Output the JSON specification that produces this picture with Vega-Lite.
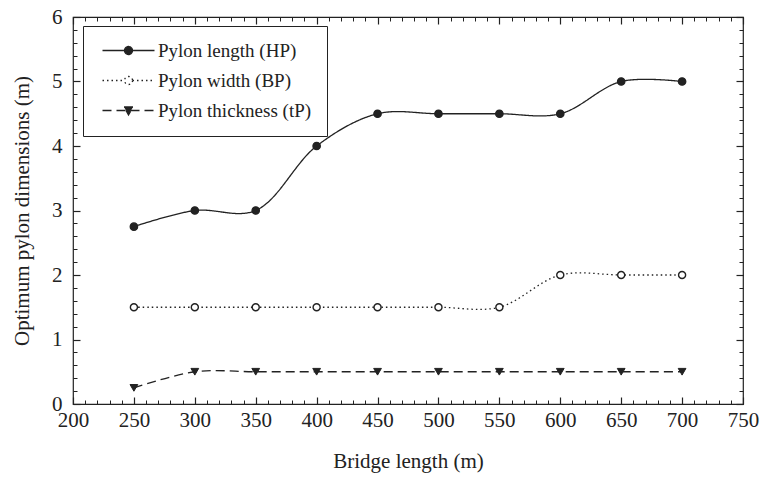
{
  "$schema": "https://vega.github.io/schema/vega-lite/v6.json",
  "width": 670,
  "height": 387,
  "autosize": {"type": "none"},
  "padding": {"left": 73, "top": 17, "right": 30, "bottom": 80},
  "background": "white",
  "config": {
    "view": {"stroke": "#222", "strokeWidth": 1.2},
    "axis": {
      "labelFont": "Liberation Serif",
      "labelFontSize": 21,
      "labelColor": "#222",
      "titleFont": "Liberation Serif",
      "titleFontSize": 21,
      "titleFontWeight": "normal",
      "titleColor": "#222",
      "domain": false,
      "zindex": 1,
      "grid": false,
      "labelOverlap": false,
      "labelFlush": false
    },
    "legend": {
      "orient": "none",
      "legendX": 10,
      "legendY": 9,
      "zindex": 2,
      "strokeColor": "#222",
      "strokeWidth": 1,
      "fillColor": "white",
      "padding": 15,
      "labelFont": "Liberation Serif",
      "labelFontSize": 19,
      "labelColor": "#222",
      "symbolSize": 100,
      "symbolStrokeColor": "#222",
      "symbolStrokeWidth": 1.3,
      "rowPadding": 10,
      "labelOffset": 41,
      "labelLimit": 0
    }
  },
  "resolve": {"axis": {"x": "independent", "y": "independent"}},
  "data": {
    "values": [
      {"x": 250, "v": 2.75, "s": "Pylon length (HP)"},
      {"x": 300, "v": 3.0, "s": "Pylon length (HP)"},
      {"x": 350, "v": 3.0, "s": "Pylon length (HP)"},
      {"x": 400, "v": 4.0, "s": "Pylon length (HP)"},
      {"x": 450, "v": 4.5, "s": "Pylon length (HP)"},
      {"x": 500, "v": 4.5, "s": "Pylon length (HP)"},
      {"x": 550, "v": 4.5, "s": "Pylon length (HP)"},
      {"x": 600, "v": 4.5, "s": "Pylon length (HP)"},
      {"x": 650, "v": 5.0, "s": "Pylon length (HP)"},
      {"x": 700, "v": 5.0, "s": "Pylon length (HP)"},
      {"x": 250, "v": 1.5, "s": "Pylon width (BP)"},
      {"x": 300, "v": 1.5, "s": "Pylon width (BP)"},
      {"x": 350, "v": 1.5, "s": "Pylon width (BP)"},
      {"x": 400, "v": 1.5, "s": "Pylon width (BP)"},
      {"x": 450, "v": 1.5, "s": "Pylon width (BP)"},
      {"x": 500, "v": 1.5, "s": "Pylon width (BP)"},
      {"x": 550, "v": 1.5, "s": "Pylon width (BP)"},
      {"x": 600, "v": 2.0, "s": "Pylon width (BP)"},
      {"x": 650, "v": 2.0, "s": "Pylon width (BP)"},
      {"x": 700, "v": 2.0, "s": "Pylon width (BP)"},
      {"x": 250, "v": 0.25, "s": "Pylon thickness (tP)"},
      {"x": 300, "v": 0.5, "s": "Pylon thickness (tP)"},
      {"x": 350, "v": 0.5, "s": "Pylon thickness (tP)"},
      {"x": 400, "v": 0.5, "s": "Pylon thickness (tP)"},
      {"x": 450, "v": 0.5, "s": "Pylon thickness (tP)"},
      {"x": 500, "v": 0.5, "s": "Pylon thickness (tP)"},
      {"x": 550, "v": 0.5, "s": "Pylon thickness (tP)"},
      {"x": 600, "v": 0.5, "s": "Pylon thickness (tP)"},
      {"x": 650, "v": 0.5, "s": "Pylon thickness (tP)"},
      {"x": 700, "v": 0.5, "s": "Pylon thickness (tP)"}
    ]
  },
  "layer": [
    {
      "mark": {"type": "line", "interpolate": "catmull-rom", "stroke": "#222", "strokeWidth": 1.3},
      "encoding": {
        "x": {
          "field": "x", "type": "quantitative",
          "scale": {"domain": [200, 750], "nice": false},
          "axis": {
            "orient": "bottom",
            "title": "Bridge length (m)",
            "values": [200,250,300,350,400,450,500,550,600,650,700,750],
            "offset": -7,
            "tickSize": 7,
            "tickColor": "#222",
            "tickWidth": 1.2,
            "labelPadding": 5,
            "titlePadding": 20
          }
        },
        "y": {
          "field": "v", "type": "quantitative",
          "scale": {"domain": [0, 6], "nice": false},
          "axis": {
            "orient": "left",
            "title": "Optimum pylon dimensions  (m)",
            "format": "d",
            "values": [0,1,2,3,4,5,6],
            "offset": -7,
            "tickSize": 7,
            "tickColor": "#222",
            "tickWidth": 1.2,
            "labelPadding": 11,
            "titlePadding": 19
          }
        },
        "strokeDash": {
          "field": "s", "type": "nominal",
          "scale": {
            "domain": ["Pylon length (HP)", "Pylon width (BP)", "Pylon thickness (tP)"],
            "range": [[1, 0], [1.5, 3], [9, 5]]
          },
          "legend": {
            "title": null,
            "encode": {
              "symbols": {
                "update": {
                  "shape": {"signal": "datum.value === 'Pylon length (HP)' ? 'M-1,0L9.4,0M5,0A0.8,0.8 0 1,1 3.4,0A0.8,0.8 0 1,1 5,0Z' : datum.value === 'Pylon width (BP)' ? 'M-1,0L3.4,0M5,0A0.8,0.8 0 1,1 3.4,0A0.8,0.8 0 1,1 5,0ZM5,0L9.4,0' : 'M-1,0L9.4,0M3.3,-0.7L5.1,-0.7L4.2,0.9Z'"},
                  "fill": {"signal": "datum.value === 'Pylon width (BP)' ? 'white' : '#222'"},
                  "stroke": {"value": "#222"},
                  "strokeWidth": {"value": 1.3},
                  "opacity": {"value": 1}
                }
              }
            }
          }
        }
      }
    },
    {
      "transform": [{"filter": "datum.s === 'Pylon length (HP)'"}],
      "mark": {"type": "point", "shape": "circle", "filled": true, "fill": "#222", "stroke": "#222", "strokeWidth": 1.3, "opacity": 1, "size": 55},
      "encoding": {
        "x": {
          "field": "x", "type": "quantitative",
          "axis": {
            "orient": "top", "title": null, "labels": false,
            "values": [200,250,300,350,400,450,500,550,600,650,700,750],
            "offset": -7, "tickSize": 7, "tickColor": "#222", "tickWidth": 1.2
          }
        },
        "y": {
          "field": "v", "type": "quantitative",
          "axis": {
            "orient": "right", "title": null, "labels": false,
            "values": [0,1,2,3,4,5,6],
            "offset": -7, "tickSize": 7, "tickColor": "#222", "tickWidth": 1.2
          }
        }
      }
    },
    {
      "transform": [{"filter": "datum.s === 'Pylon width (BP)'"}],
      "mark": {"type": "point", "shape": "circle", "filled": true, "fill": "white", "stroke": "#222", "strokeWidth": 1.4, "opacity": 1, "size": 50},
      "encoding": {
        "x": {
          "field": "x", "type": "quantitative",
          "axis": {
            "orient": "bottom", "title": null, "labels": false,
            "values": [200,210,220,230,240,250,260,270,280,290,300,310,320,330,340,350,360,370,380,390,400,410,420,430,440,450,460,470,480,490,500,510,520,530,540,550,560,570,580,590,600,610,620,630,640,650,660,670,680,690,700,710,720,730,740,750],
            "offset": -4, "tickSize": 4, "tickColor": "#222", "tickWidth": 1
          }
        },
        "y": {
          "field": "v", "type": "quantitative",
          "axis": {
            "orient": "left", "title": null, "labels": false,
            "values": [0,0.2,0.4,0.6,0.8,1,1.2,1.4,1.6,1.8,2,2.2,2.4,2.6,2.8,3,3.2,3.4,3.6,3.8,4,4.2,4.4,4.6,4.8,5,5.2,5.4,5.6,5.8,6],
            "offset": -4, "tickSize": 4, "tickColor": "#222", "tickWidth": 1
          }
        }
      }
    },
    {
      "transform": [{"filter": "datum.s === 'Pylon thickness (tP)'"}],
      "mark": {"type": "point", "shape": "triangle-down", "filled": true, "fill": "#222", "stroke": "#222", "strokeWidth": 1, "opacity": 1, "size": 60},
      "encoding": {
        "x": {
          "field": "x", "type": "quantitative",
          "axis": {
            "orient": "top", "title": null, "labels": false,
            "values": [200,210,220,230,240,250,260,270,280,290,300,310,320,330,340,350,360,370,380,390,400,410,420,430,440,450,460,470,480,490,500,510,520,530,540,550,560,570,580,590,600,610,620,630,640,650,660,670,680,690,700,710,720,730,740,750],
            "offset": -4, "tickSize": 4, "tickColor": "#222", "tickWidth": 1
          }
        },
        "y": {
          "field": "v", "type": "quantitative",
          "axis": {
            "orient": "right", "title": null, "labels": false,
            "values": [0,0.2,0.4,0.6,0.8,1,1.2,1.4,1.6,1.8,2,2.2,2.4,2.6,2.8,3,3.2,3.4,3.6,3.8,4,4.2,4.4,4.6,4.8,5,5.2,5.4,5.6,5.8,6],
            "offset": -4, "tickSize": 4, "tickColor": "#222", "tickWidth": 1
          }
        }
      }
    }
  ]
}
